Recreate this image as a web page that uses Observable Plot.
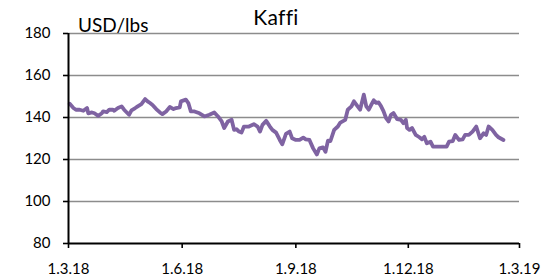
<!DOCTYPE html>
<html>
<head>
<meta charset="utf-8">
<script src="https://cdn.jsdelivr.net/npm/d3@7"></script>
<script src="https://cdn.jsdelivr.net/npm/@observablehq/plot@0.6"></script>
<style>
  html, body { margin: 0; padding: 0; background: #fff; }
  #wrap { position: relative; width: 549px; height: 278px; font-family: Lato, "Noto Sans", sans-serif; font-variant-ligatures: none; }
  #title { position: absolute; left: 176px; width: 200px; top: 6px; text-align: center; font-size: 21px; line-height: 21px; color: #000; letter-spacing: 0.3px; }
  #unit { position: absolute; left: 78px; top: 15px; font-size: 19px; line-height: 19px; color: #000; white-space: nowrap; }
  #chart svg { display: block; }
</style>
</head>
<body>
<div id="wrap">
  <div id="chart"></div>
  <div id="title">Kaffi</div>
  <div id="unit">USD/lbs</div>
</div>
<script>
const title = "Kaffi";
const unitLabel = "USD/lbs";

const dates = [
"2018-03-02","2018-03-05","2018-03-07","2018-03-10","2018-03-13","2018-03-16","2018-03-17","2018-03-20","2018-03-22","2018-03-25",
"2018-03-28","2018-03-29","2018-04-01","2018-04-03","2018-04-06","2018-04-07","2018-04-10","2018-04-13","2018-04-15","2018-04-19",
"2018-04-21","2018-04-24","2018-04-26","2018-04-29","2018-05-02","2018-05-04","2018-05-06","2018-05-08","2018-05-11","2018-05-14",
"2018-05-16","2018-05-19","2018-05-22","2018-05-25","2018-05-27","2018-05-30","2018-05-31","2018-06-04","2018-06-06","2018-06-08",
"2018-06-11","2018-06-15","2018-06-19","2018-06-23","2018-06-27","2018-06-30","2018-07-03","2018-07-05","2018-07-08","2018-07-11",
"2018-07-13","2018-07-15","2018-07-17","2018-07-19","2018-07-21","2018-07-25","2018-07-29","2018-08-01","2018-08-03","2018-08-05",
"2018-08-08","2018-08-11","2018-08-13","2018-08-16","2018-08-19","2018-08-21","2018-08-24","2018-08-27","2018-08-29","2018-09-01",
"2018-09-04","2018-09-07","2018-09-09","2018-09-12","2018-09-15","2018-09-18","2018-09-20","2018-09-23","2018-09-25","2018-09-27",
"2018-09-29","2018-10-02","2018-10-05","2018-10-07","2018-10-11","2018-10-13","2018-10-16","2018-10-18","2018-10-21","2018-10-23",
"2018-10-26","2018-10-28","2018-10-30","2018-11-01","2018-11-03","2018-11-05","2018-11-07","2018-11-09","2018-11-11","2018-11-13",
"2018-11-15","2018-11-17","2018-11-19","2018-11-22","2018-11-25","2018-11-27","2018-11-29","2018-11-30","2018-12-02","2018-12-04",
"2018-12-07","2018-12-10","2018-12-12","2018-12-14","2018-12-16","2018-12-19","2018-12-21","2018-12-24","2018-12-29","2019-01-01",
"2019-01-03","2019-01-06","2019-01-08","2019-01-11","2019-01-14","2019-01-16","2019-01-19","2019-01-22","2019-01-25","2019-01-28",
"2019-01-31","2019-02-02","2019-02-04","2019-02-07","2019-02-10","2019-02-12","2019-02-16"
];
const prices = [
146.5,144.5,143.7,143.7,143.2,144.5,142.0,142.4,142.0,140.8,
142.0,142.9,142.6,143.7,143.7,143.2,144.5,145.3,143.7,141.3,
143.4,144.5,145.3,146.4,148.8,147.7,146.9,146.0,144.0,142.4,
141.6,142.9,145.0,144.0,144.5,144.8,147.7,148.5,146.9,142.9,
142.9,142.0,140.5,141.3,142.4,140.5,138.1,135.0,138.1,138.9,
134.1,134.4,133.3,132.8,135.7,135.7,136.8,135.7,133.3,136.5,
138.4,135.7,134.1,132.8,129.3,127.2,132.2,133.3,130.1,129.3,
129.3,130.4,129.6,129.3,125.3,122.4,125.3,125.8,123.7,129.0,
128.8,134.1,135.7,137.6,138.9,143.7,145.3,147.7,145.3,143.7,
150.9,145.3,143.7,146.0,148.2,147.0,147.2,145.3,142.9,139.7,
138.1,141.3,142.1,139.2,138.9,137.3,138.9,135.0,134.1,135.0,
131.7,130.6,129.6,130.8,127.7,128.5,126.1,126.1,126.1,126.1,
128.5,128.8,131.7,129.3,129.6,131.7,131.7,133.3,135.7,130.1,
132.5,131.7,135.7,134.1,131.7,130.6,129.3
];

const xTickDates = ["2018-03-01","2018-06-01","2018-09-01","2018-12-01","2019-03-01"];
const xTickLabels = ["1.3.18","1.6.18","1.9.18","1.12.18","1.3.19"];
const yTicks = [80,100,120,140,160,180];

document.getElementById("title").textContent = title;
document.getElementById("unit").textContent = unitLabel;

const data = dates.map((d, i) => ({date: new Date(d), price: prices[i]}));
const xTicks = xTickDates.map(d => new Date(d));
const xFmt = d => xTickLabels[xTicks.findIndex(t => +t === +d)];

const chart = Plot.plot({
  width: 549,
  height: 278,
  marginLeft: 68,
  marginRight: 30,
  marginTop: 33,
  marginBottom: 35,
  style: {fontFamily: "Lato, 'Noto Sans', sans-serif", fontSize: "15px", background: "transparent", color: "#000"},
  x: {type: "utc", domain: [xTicks[0], xTicks[xTicks.length - 1]]},
  y: {domain: [80, 180]},
  marks: [
    Plot.ruleY(yTicks.filter(v => v > 80), {stroke: "#8c8c8c", strokeWidth: 1.6}),
    Plot.line(data, {x: "date", y: "price", stroke: "#7f63a2", strokeWidth: 3.8, strokeLinejoin: "round", strokeLinecap: "round"}),
    Plot.ruleX([xTicks[0]], {stroke: "#000", strokeWidth: 2}),
    Plot.ruleY([80], {stroke: "#000", strokeWidth: 2}),
    Plot.axisY({ticks: yTicks, tickSize: 5, tickPadding: 13, label: null, strokeWidth: 1.6}),
    Plot.axisX({ticks: xTicks, tickFormat: xFmt, tickSize: 5, tickPadding: 15, label: null, strokeWidth: 1.6})
  ]
});
document.getElementById("chart").appendChild(chart);
</script>
</body>
</html>
